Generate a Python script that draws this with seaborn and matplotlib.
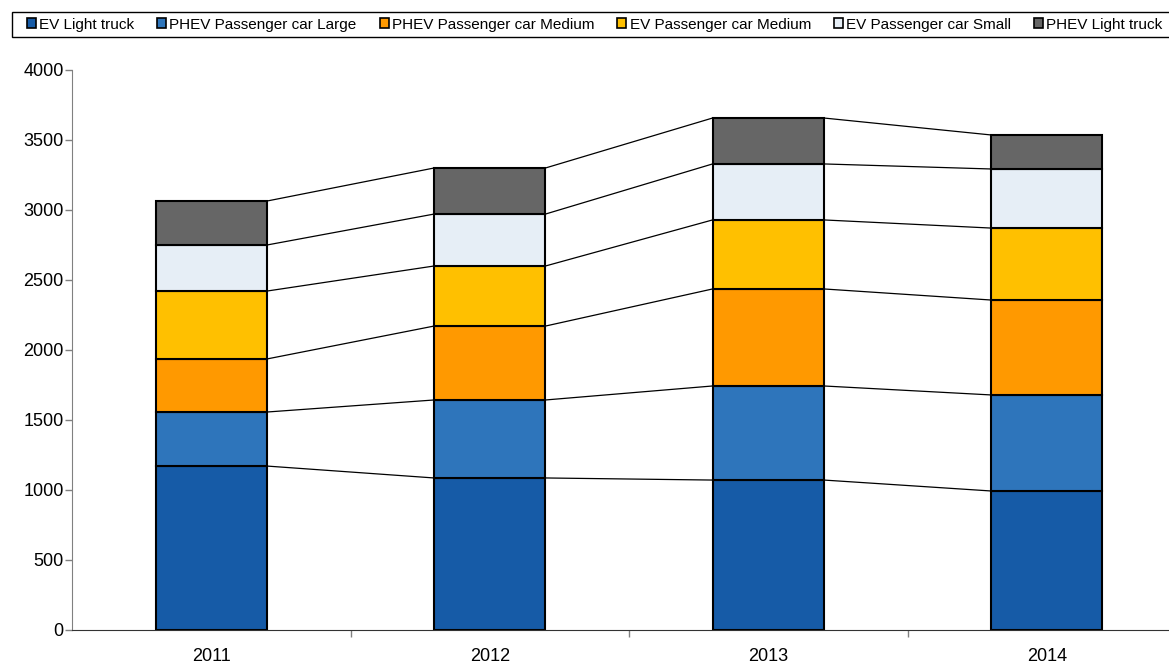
import numpy as np
import pandas as pd
import matplotlib
matplotlib.use('Agg')
import matplotlib.pyplot as plt
import seaborn as sns
from matplotlib.patches import Patch, Rectangle

# Data
years = ['2011', '2012', '2013', '2014']
series_names = ['EV Light truck', 'PHEV Passenger car Large', 'PHEV Passenger car Medium',
                'EV Passenger car Medium', 'EV Passenger car Small', 'PHEV Light truck']
ev_light_truck = [1171, 1086, 1071, 993]
phev_car_large = [386, 557, 672, 686]
phev_car_medium = [379, 528, 693, 678]
ev_car_medium = [485, 429, 493, 514]
ev_car_small = [329, 371, 400, 422]
phev_light_truck = [314, 329, 328, 243]
colors = ['#165BA7', '#2E75BB', '#FF9900', '#FFC000', '#E6EEF6', '#666666']

series = [ev_light_truck, phev_car_large, phev_car_medium,
          ev_car_medium, ev_car_small, phev_light_truck]

sns.set_style('white')
plt.rcParams['font.family'] = ['Liberation Sans', 'DejaVu Sans']
plt.rcParams['text.color'] = 'black'
plt.rcParams['xtick.color'] = 'black'
plt.rcParams['ytick.color'] = 'black'

fig = plt.figure(figsize=(11.69, 6.67), dpi=100)
ax = fig.add_axes([72 / 1169, 37 / 667, 1114 / 1169, 560 / 667])

bottom = np.zeros(len(years))
tops = []
for name, vals, col in zip(series_names, series, colors):
    df = pd.DataFrame({'year': years, 'value': vals})
    sns.barplot(data=df, x='year', y='value', bottom=bottom, color=col,
                width=0.4, edgecolor='black', linewidth=1.5, saturation=1,
                errorbar=None, ax=ax)
    bottom = bottom + np.array(vals)
    tops.append(bottom.copy())

# connecting lines between stacked segment tops
for cum in tops:
    for i in range(len(years) - 1):
        ax.plot([i + 0.2, i + 0.8], [cum[i], cum[i + 1]], color='black', lw=0.9, zorder=1)

ax.set_xlim(-0.5, 3.5)
ax.set_ylim(0, 4000)
ax.set_yticks(range(0, 4001, 500))
ax.set_xlabel('')
ax.set_ylabel('')
ax.tick_params(axis='y', direction='out', length=5, width=1, color='#808080',
               labelsize=13, pad=1, left=True, labelcolor='black')
ax.tick_params(axis='x', which='major', length=0, labelsize=13, pad=13, labelcolor='black')
ax.set_xticks([0.5, 1.5, 2.5], minor=True)
ax.tick_params(axis='x', which='minor', direction='out', length=5, width=1,
               color='#808080', bottom=True)
for s in ['top', 'right']:
    ax.spines[s].set_visible(False)
ax.spines['left'].set_color('#808080')
ax.spines['bottom'].set_color('#333333')

# legend frame drawn separately so it can run past the right edge like the original
fig.patches.append(Rectangle((12 / 1169, 1 - 37 / 667), 1170 / 1169, 25 / 667,
                             transform=fig.transFigure, facecolor='white',
                             edgecolor='black', linewidth=1, zorder=0))
handles = [Patch(facecolor=c, edgecolor='black', linewidth=1.2) for c in colors]
leg = fig.legend(handles, series_names, loc='center left', ncol=6,
                 bbox_to_anchor=(27 / 1169, 1 - 24.5 / 667), fontsize=11,
                 frameon=False, handlelength=0.6, handleheight=0.6,
                 handletextpad=0.2, columnspacing=1.5, borderpad=0, borderaxespad=0)

fig.savefig('out.png', dpi=100)
